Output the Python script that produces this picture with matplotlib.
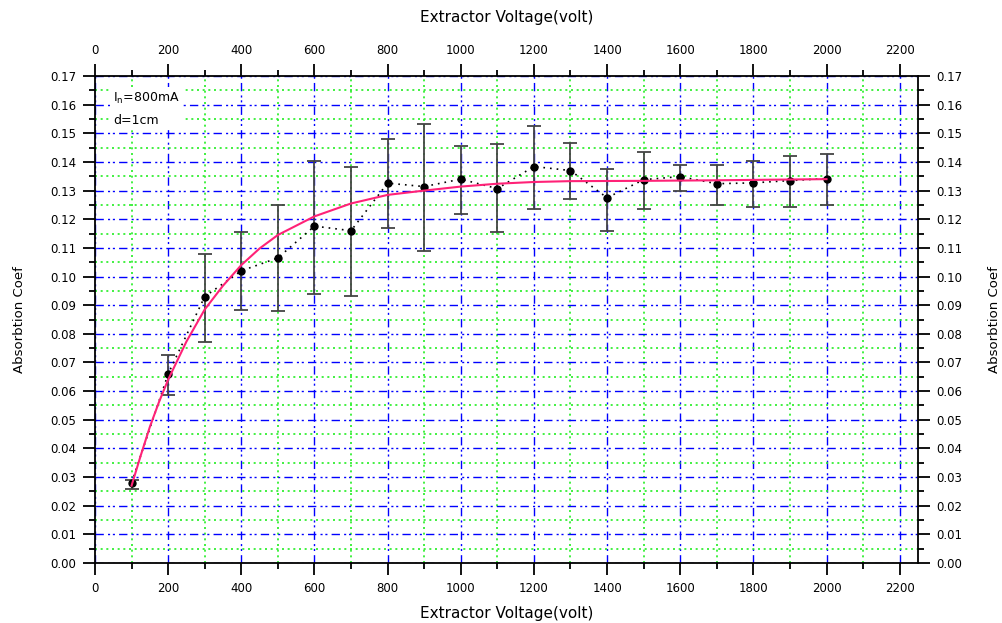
import numpy as np
import matplotlib.pyplot as plt
from matplotlib.ticker import MultipleLocator, FormatStrFormatter

# measured points (extractor voltage, absorption coefficient) with error bar ends
voltage = [100, 200, 300, 400, 500, 600, 700, 800, 900, 1000,
           1100, 1200, 1300, 1400, 1500, 1600, 1700, 1800, 1900, 2000]
coef = [0.028, 0.066, 0.093, 0.102, 0.1065, 0.1176, 0.116, 0.1326, 0.1314, 0.134,
        0.1307, 0.1384, 0.137, 0.1275, 0.1338, 0.1349, 0.1324, 0.1327, 0.1335, 0.1342]
err_top = [0.029, 0.0727, 0.1079, 0.1155, 0.125, 0.1405, 0.1384, 0.1479, 0.1531, 0.1454,
           0.1461, 0.1525, 0.1466, 0.1376, 0.1434, 0.1391, 0.139, 0.1403, 0.1421, 0.1429]
err_bot = [0.0258, 0.0587, 0.077, 0.0883, 0.088, 0.0939, 0.0932, 0.1169, 0.109, 0.1219,
           0.1155, 0.1236, 0.1269, 0.116, 0.1236, 0.130, 0.125, 0.1242, 0.1242, 0.125]

# fitted curve
fit_v = [100, 125, 150, 175, 200, 250, 300, 350, 400, 450, 500, 600, 700, 800, 900,
         1000, 1100, 1200, 1300, 1500, 1700, 2000]
fit_c = [0.027, 0.0375, 0.0475, 0.0562, 0.064, 0.0773, 0.0885, 0.0968, 0.104, 0.1098,
         0.1145, 0.121, 0.1255, 0.1285, 0.130, 0.1314, 0.1324, 0.133, 0.1333, 0.1334,
         0.1336, 0.134]

coef = np.array(coef)
lower = coef - np.array(err_bot)
upper = np.array(err_top) - coef

fig = plt.figure(figsize=(10.03, 6.23), dpi=100)
ax = fig.add_axes([0.0947, 0.0963, 0.8205, 0.7817])

ax.set_xlim(0, 2250)
ax.set_ylim(0, 0.17)

ax.xaxis.set_major_locator(MultipleLocator(200))
ax.xaxis.set_minor_locator(MultipleLocator(100))
ax.yaxis.set_major_locator(MultipleLocator(0.01))
ax.yaxis.set_minor_locator(MultipleLocator(0.005))
ax.yaxis.set_major_formatter(FormatStrFormatter('%.2f'))

ax.grid(which='major', color='blue', linestyle=(0, (6, 3, 1.5, 2, 1.5, 3)), linewidth=1.0)
ax.grid(which='minor', color='#22ee22', linestyle=(0, (1.2, 2.2)), linewidth=1.2)
ax.set_axisbelow(True)

ax.tick_params(which='major', direction='out', length=8.5, width=1.3, labelsize=8.5, pad=5)
ax.tick_params(which='minor', direction='out', length=4.5, width=1.3)
ax.tick_params(which='both', top=True, right=True, labeltop=True, labelright=True)
for s in ax.spines.values():
    s.set_linewidth(1.3)

ax.errorbar(voltage, coef, yerr=[lower, upper], fmt='none', ecolor='#444444',
            elinewidth=1.3, capsize=5, capthick=1.3, zorder=3)
ax.plot(voltage, coef, color='black', linestyle=(0, (1, 3)), linewidth=1.2,
        marker='o', markersize=5, zorder=4)
ax.plot(fit_v, fit_c, color='#ff2277', linewidth=1.5, zorder=5)

ax.set_xlabel('Extractor Voltage(volt)', fontsize=11, labelpad=8)
ax.set_ylabel('Absorbtion Coef', fontsize=9.5, labelpad=17)
ax.text(0.5, 1.12, 'Extractor Voltage(volt)', transform=ax.transAxes,
        ha='center', va='center', fontsize=11)
ax.text(1.0935, 0.5, 'Absorbtion Coef', transform=ax.transAxes,
        ha='center', va='center', rotation=90, fontsize=9.5)

ax.text(0.022, 0.97, r'I$_{\rm n}$=800mA' + '\n' + 'd=1cm', transform=ax.transAxes,
        ha='left', va='top', fontsize=9, linespacing=1.8,
        bbox=dict(facecolor='white', edgecolor='none', pad=2), zorder=6)

fig.savefig('out.png', dpi=100)
